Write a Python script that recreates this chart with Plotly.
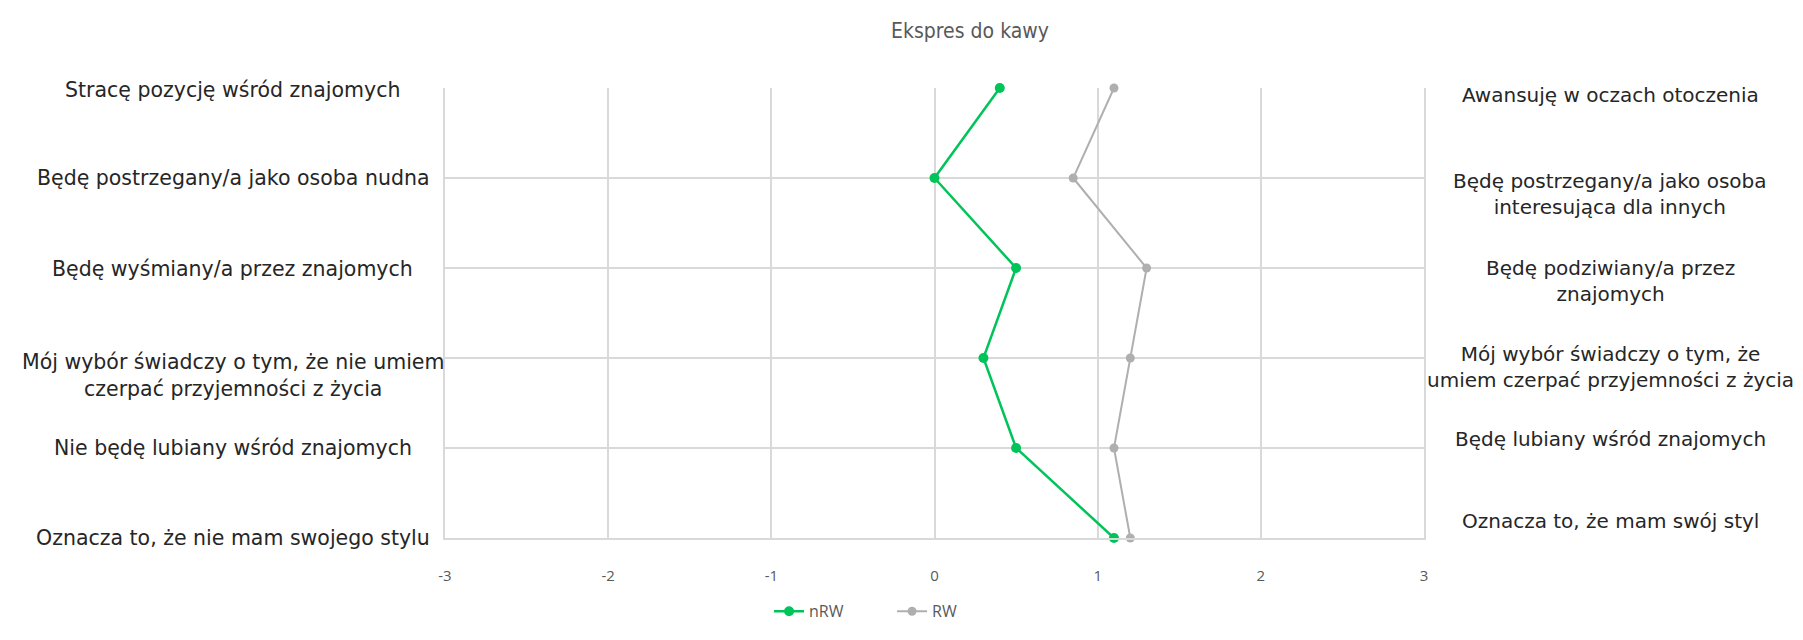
import plotly.graph_objects as go

# Semantic differential: negative pole statements (left) vs positive pole (right)
left_labels = [
    "Stracę pozycję wśród znajomych",
    "Będę postrzegany/a jako osoba nudna",
    "Będę wyśmiany/a przez znajomych",
    "Mój wybór świadczy o tym, że nie umiem<br>czerpać przyjemności z życia",
    "Nie będę lubiany wśród znajomych",
    "Oznacza to, że nie mam swojego stylu",
]
right_labels = [
    "Awansuję w oczach otoczenia",
    "Będę postrzegany/a jako osoba<br>interesująca dla innych",
    "Będę podziwiany/a przez<br>znajomych",
    "Mój wybór świadczy o tym, że<br>umiem czerpać przyjemności z życia",
    "Będę lubiany wśród znajomych",
    "Oznacza to, że mam swój styl",
]
nrw_values = [0.4, 0.0, 0.5, 0.3, 0.5, 1.1]
rw_values = [1.1, 0.85, 1.3, 1.2, 1.1, 1.2]
x_ticks = [-3, -2, -1, 0, 1, 2, 3]
x_tick_text = ["-3", "-2", "-1", "0", "1", "2", "3"]

# vertical nudges (px) for the wrapped statement labels
left_shift = [-2, 0, -1, -17, 0, 0]
right_shift = [-7, -16, -13, -9, 9, 17]

GREEN = "#00C45A"
GRAY = "#AFAFAF"
GRID = "#D9D9D9"
FONT = "Open Sans"
LABEL_FONT = "DejaVu Sans"
TITLE_FONT = "DejaVu Sans Condensed, Roboto"

rows = list(range(len(left_labels)))

fig = go.Figure()
fig.add_trace(go.Scatter(
    x=nrw_values, y=rows, name="nRW", mode="lines+markers",
    line=dict(color=GREEN, width=2.5),
    marker=dict(color=GREEN, size=10), cliponaxis=False,
))
fig.add_trace(go.Scatter(
    x=rw_values, y=rows, name="RW", mode="lines+markers",
    line=dict(color=GRAY, width=2),
    marker=dict(color=GRAY, size=9), cliponaxis=False,
))

annotations = []
for i, (txt, dy) in enumerate(zip(left_labels, left_shift)):
    annotations.append(dict(
        x=-0.2166, xref="paper", y=i, yref="y", text=txt, showarrow=False,
        xanchor="center", yanchor="middle", align="center", yshift=dy,
        font=dict(family=LABEL_FONT, size=20.5, color="#262626"),
    ))
for i, (txt, dy) in enumerate(zip(right_labels, right_shift)):
    annotations.append(dict(
        x=1.19, xref="paper", y=i, yref="y", text=txt, showarrow=False,
        xanchor="center", yanchor="middle", align="center", yshift=dy,
        font=dict(family=LABEL_FONT, size=20, color="#262626"),
    ))

fig.update_layout(
    width=1803, height=640,
    margin=dict(l=445, r=379, t=88, b=85),
    paper_bgcolor="white", plot_bgcolor="white",
    title=dict(text="Ekspres do kawy", x=0.538, xanchor="center",
               y=0.952, yanchor="middle",
               font=dict(family=TITLE_FONT, size=21, color="#595959")),
    xaxis=dict(range=[-3, 3], tickvals=x_ticks, ticktext=x_tick_text,
               showgrid=True, gridcolor=GRID, gridwidth=1.5, zeroline=False,
               showline=True, linecolor=GRID, linewidth=1.5, mirror=False,
               ticks="", ticklabelstandoff=23,
               tickfont=dict(family=FONT, size=15, color="#595959")),
    yaxis=dict(range=[5, 0], tickvals=rows, showticklabels=False,
               showgrid=True, gridcolor=GRID, gridwidth=1.5,
               zeroline=False, showline=True, linecolor=GRID,
               linewidth=1.5, mirror=True, ticks=""),
    legend=dict(orientation="h", x=0.331, xanchor="left",
                y=-0.163, yanchor="middle", entrywidth=78,
                font=dict(family=FONT, size=16, color="#595959")),
    annotations=annotations,
    showlegend=True,
)

fig.write_html("out.html")
